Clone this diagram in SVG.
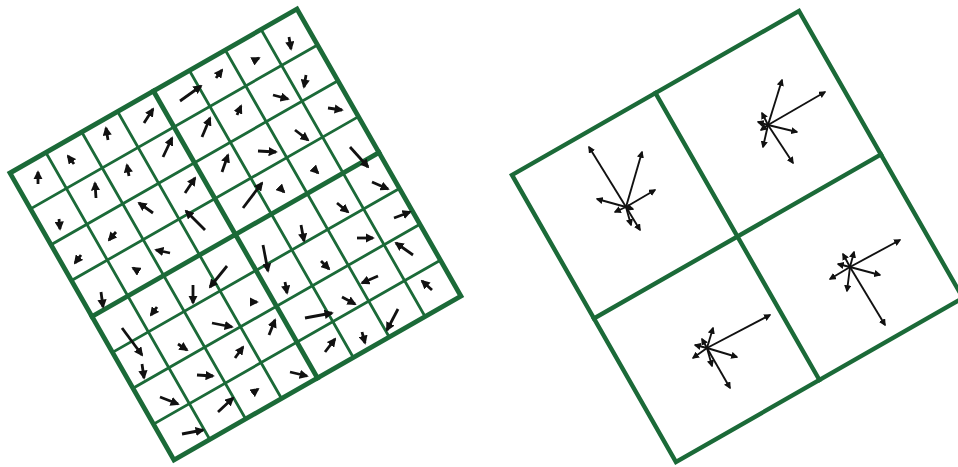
<svg xmlns="http://www.w3.org/2000/svg" width="958" height="467" viewBox="0 0 958 467">
<style>
.g{stroke:#1b6a38;fill:none;stroke-linecap:square}
.thin{stroke-width:2.8}
.thick{stroke-width:4.8}
.a{stroke:#111;stroke-width:2.8;fill:none;marker-end:url(#ah)}
.h{stroke:#111;stroke-width:1.9;fill:none;marker-end:url(#hh)}
</style>
<defs>
<marker id="ah" viewBox="0 0 10 10" refX="8" refY="5" markerWidth="3.3" markerHeight="3.3" orient="auto" markerUnits="strokeWidth"><path d="M0,0 L10,5 L0,10 z" fill="#111"/></marker>
<marker id="hh" viewBox="0 0 10 10" refX="8" refY="5" markerWidth="3.8" markerHeight="3.8" orient="auto" markerUnits="strokeWidth"><path d="M0,0 L10,5 L0,10 z" fill="#111"/></marker>
</defs>
<rect width="958" height="467" fill="#fff"/>

<g id="left-grid" class="g" transform="translate(10,173) rotate(-29.74)">
<g class="thin">
<path d="M41.3,0V330.5M82.6,0V330.5M123.9,0V330.5M206.6,0V330.5M247.9,0V330.5M289.2,0V330.5"/>
<path d="M0,41.3H330.5M0,82.6H330.5M0,123.9H330.5M0,206.6H330.5M0,247.9H330.5M0,289.2H330.5"/>
</g>
<g class="thick">
<path d="M165.25,0V330.5M0,165.25H330.5"/>
<rect x="0" y="0" width="330.5" height="330.5"/>
</g>
</g>

<g id="left-arrows">
<path class="a" d="M38,184L38,172"/>
<path class="a" d="M74,164L68,156"/>
<path class="a" d="M108,140L106,128"/>
<path class="a" d="M144,123L153,109"/>
<path class="a" d="M180,101L201,86"/>
<path class="a" d="M216,78L222,70"/>
<path class="a" d="M255,60L259,58"/>
<path class="a" d="M289,37L291,49"/>

<path class="a" d="M59,219L60,229"/>
<path class="a" d="M96,198L95,183"/>
<path class="a" d="M129,176L127,165"/>
<path class="a" d="M163,157L172,138"/>
<path class="a" d="M202,137L210,118"/>
<path class="a" d="M237,115L241,106"/>
<path class="a" d="M273,95L288,99"/>
<path class="a" d="M306,75L304,87"/>

<path class="a" d="M81,255L75,263"/>
<path class="a" d="M116,232L109,240"/>
<path class="a" d="M153,213L139,203"/>
<path class="a" d="M185,193L195,178"/>
<path class="a" d="M222,172L228,155"/>
<path class="a" d="M258,151L276,152"/>
<path class="a" d="M295,130L308,140"/>
<path class="a" d="M328,108L342,110"/>

<path class="a" d="M101,292L103,307"/>
<path class="a" d="M138,271L133,268"/>
<path class="a" d="M170,253L156,250"/>
<path class="a" d="M205,230L186,211"/>
<path class="a" d="M243,208L262,183"/>
<path class="a" d="M280,188L284,192"/>
<path class="a" d="M316,171L318,173"/>
<path class="a" d="M350,147L368,167"/>

<path class="a" d="M122,328L142,355"/>
<path class="a" d="M157,307L151,315"/>
<path class="a" d="M193,285L193,303"/>
<path class="a" d="M227,266L210,287"/>
<path class="a" d="M263,245L268,271"/>
<path class="a" d="M301,225L304,241"/>
<path class="a" d="M337,203L348,212"/>
<path class="a" d="M372,182L388,189"/>

<path class="a" d="M142,364L144,378"/>
<path class="a" d="M178,344L187,350"/>
<path class="a" d="M212,323L232,327"/>
<path class="a" d="M252,302L257,302"/>
<path class="a" d="M285,282L287,293"/>
<path class="a" d="M321,261L329,269"/>
<path class="a" d="M357,238L373,238"/>
<path class="a" d="M394,218L410,212"/>

<path class="a" d="M160,397L178,404"/>
<path class="a" d="M197,375L213,376"/>
<path class="a" d="M235,358L243,347"/>
<path class="a" d="M269,335L275,320"/>
<path class="a" d="M305,318L332,313"/>
<path class="a" d="M342,297L355,304"/>
<path class="a" d="M378,276L362,283"/>
<path class="a" d="M413,255L396,243"/>

<path class="a" d="M182,434L203,430"/>
<path class="a" d="M218,412L233,398"/>
<path class="a" d="M254,392L258,389"/>
<path class="a" d="M290,372L307,376"/>
<path class="a" d="M325,352L335,339"/>
<path class="a" d="M362,332L365,343"/>
<path class="a" d="M398,309L387,330"/>
<path class="a" d="M432,290L422,281"/>
</g>

<g id="right-grid" class="g" transform="translate(512,175) rotate(-29.74)">
<path stroke-width="4.4" d="M165.25,0V330.5M0,165.25H330.5"/>
<rect stroke-width="4.4" x="0" y="0" width="330.5" height="330.5"/>
</g>

<g id="hist-tl">
<path class="h" d="M626,207L655,190"/>
<path class="h" d="M626,207L642,152"/>
<path class="h" d="M626,207L589,147"/>
<path class="h" d="M626,207L597,199"/>
<path class="h" d="M626,207L615,212"/>
<path class="h" d="M626,207L631,225"/>
<path class="h" d="M626,207L640,230"/>
<path class="h" d="M626,207L633,209"/>
</g>
<g id="hist-tr">
<path class="h" d="M768,125L825,92"/>
<path class="h" d="M768,125L782,80"/>
<path class="h" d="M768,125L762,113"/>
<path class="h" d="M768,125L758,122"/>
<path class="h" d="M768,125L761,130"/>
<path class="h" d="M768,125L763,147"/>
<path class="h" d="M768,125L793,163"/>
<path class="h" d="M768,125L797,132"/>
</g>
<g id="hist-bl">
<path class="h" d="M707,348L770,315"/>
<path class="h" d="M707,348L713,328"/>
<path class="h" d="M707,348L702,339"/>
<path class="h" d="M707,348L695,345"/>
<path class="h" d="M707,348L693,358"/>
<path class="h" d="M707,348L712,366"/>
<path class="h" d="M707,348L730,388"/>
<path class="h" d="M707,348L737,357"/>
</g>
<g id="hist-br">
<path class="h" d="M850,267L900,240"/>
<path class="h" d="M850,267L854,252"/>
<path class="h" d="M850,267L843,254"/>
<path class="h" d="M850,267L838,264"/>
<path class="h" d="M850,267L830,279"/>
<path class="h" d="M850,267L847,291"/>
<path class="h" d="M850,267L885,325"/>
<path class="h" d="M850,267L880,275"/>
</g>
</svg>
